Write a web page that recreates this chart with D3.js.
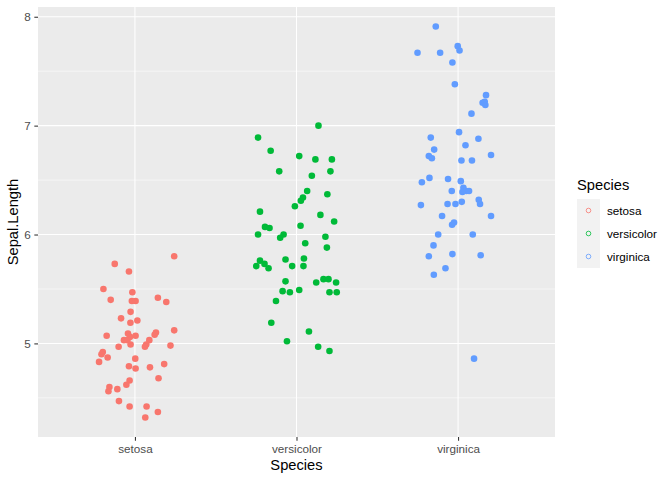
<!DOCTYPE html>
<html>
<head>
<meta charset="utf-8">
<script src="https://cdn.jsdelivr.net/npm/d3@7"></script>
<style>
body { margin: 0; background: #fff; }
text { font-family: "Liberation Sans", Arial, Helvetica, sans-serif; }
</style>
</head>
<body>
<svg id="chart"></svg>
<script>
// categories, colours, ticks
const species = ["setosa", "versicolor", "virginica"];
const colors = ["#F8766D", "#00BA38", "#619CFF"];
const yTicks = [5, 6, 7, 8];
const yMinor = [4.5, 5.5, 6.5, 7.5];

// Sepal.Length values (as jittered on the plot) and horizontal jitter in category units
const setosaLength = [5.80,5.73,5.66,5.50,5.47,5.40,5.42,5.38,5.39,5.39,5.29,5.23,5.19,5.21,5.12,5.10,5.08,5.07,5.09,5.07,5.06,5.03,5.03,5.03,4.99,4.99,4.97,4.97,4.98,4.92,4.90,4.87,4.83,4.86,4.79,4.77,4.78,4.81,4.68,4.66,4.62,4.60,4.56,4.58,4.47,4.42,4.42,4.37,4.32];
const setosaJitter = [0.243,-0.125,-0.037,-0.195,-0.016,-0.150,0.142,0.194,-0.019,0.004,-0.027,-0.086,-0.028,0.015,0.243,0.130,0.122,-0.175,-0.043,0.004,-0.031,-0.068,-0.047,0.089,-0.027,0.070,0.062,-0.101,0.220,-0.199,-0.207,-0.169,-0.222,0.002,-0.037,0.004,0.093,0.181,0.146,-0.033,-0.053,-0.158,-0.164,-0.109,-0.099,-0.033,0.072,0.142,0.064];

const versicolorLength = [7.00,6.89,6.77,6.72,6.69,6.69,6.58,6.58,6.54,6.40,6.37,6.34,6.31,6.26,6.21,6.18,6.12,6.07,6.06,6.08,6.00,6.00,5.97,5.98,5.92,5.88,5.76,5.71,5.73,5.69,5.77,5.78,5.71,5.71,5.57,5.56,5.59,5.59,5.56,5.48,5.47,5.49,5.47,5.47,5.39,5.19,5.11,5.02,4.97,4.93];
const versicolorJitter = [0.136,-0.238,-0.160,0.017,0.117,0.219,-0.107,0.210,0.095,0.066,0.191,0.040,0.027,-0.010,-0.226,0.148,0.233,-0.195,-0.167,0.025,-0.238,-0.080,-0.101,0.179,0.054,0.188,-0.226,-0.249,-0.198,-0.173,-0.068,0.046,-0.027,0.043,-0.068,0.122,0.167,0.198,0.245,-0.086,-0.041,0.017,0.204,0.249,-0.127,-0.156,0.077,-0.059,0.134,0.204];

const virginicaLength = [7.91,7.67,7.67,7.73,7.69,7.58,7.38,7.28,7.21,7.22,7.19,7.11,6.89,6.94,6.88,6.78,6.82,6.72,6.70,6.73,6.68,6.68,6.52,6.48,6.51,6.49,6.40,6.43,6.39,6.40,6.40,6.32,6.28,6.27,6.28,6.28,6.30,6.17,6.17,6.09,6.11,6.00,6.00,5.90,5.82,5.80,5.81,5.69,5.63,4.86];
const virginicaJitter = [-0.138,-0.251,-0.111,-0.002,0.009,-0.035,-0.020,0.173,0.152,0.165,0.169,0.083,-0.169,0.006,0.126,-0.148,0.046,-0.181,-0.162,0.204,0.021,0.086,-0.177,-0.224,-0.062,0.017,-0.039,0.033,0.027,0.052,0.068,0.128,0.136,-0.230,-0.065,-0.016,0.023,-0.099,0.204,-0.037,-0.025,-0.123,0.091,-0.152,-0.035,-0.181,0.140,-0.078,-0.150,0.099];

const lengths = [setosaLength, versicolorLength, virginicaLength];
const jitters = [setosaJitter, versicolorJitter, virginicaJitter];

const points = [];
lengths.forEach((arr, i) => {
    arr.forEach((v, k) => points.push({ sp: i, x: i + jitters[i][k], y: v }));
});

const width = 672, height = 480;
const panel = { left: 38, right: 555, top: 7, bottom: 437 };

const svg = d3.select("#chart")
    .attr("width", width)
    .attr("height", height);

// ggplot style: discrete x expanded by 0.6, continuous y by 5%
const x = d3.scaleLinear()
    .domain([-0.6, species.length - 1 + 0.6])
    .range([panel.left, panel.right]);

const [lo, hi] = d3.extent(points, d => d.y);
const pad = (hi - lo) * 0.05;
const y = d3.scaleLinear()
    .domain([lo - pad, hi + pad])
    .range([panel.bottom, panel.top]);

// panel background
svg.append("rect")
    .attr("x", panel.left)
    .attr("y", panel.top)
    .attr("width", panel.right - panel.left)
    .attr("height", panel.bottom - panel.top)
    .attr("fill", "#EBEBEB");

// grid lines
svg.append("g").selectAll("line")
    .data(yMinor)
    .join("line")
    .attr("x1", panel.left).attr("x2", panel.right)
    .attr("y1", d => y(d)).attr("y2", d => y(d))
    .attr("stroke", "#fff").attr("stroke-width", 0.53);

svg.append("g").selectAll("line")
    .data(yTicks)
    .join("line")
    .attr("x1", panel.left).attr("x2", panel.right)
    .attr("y1", d => y(d)).attr("y2", d => y(d))
    .attr("stroke", "#fff").attr("stroke-width", 1.07);

svg.append("g").selectAll("line")
    .data(species)
    .join("line")
    .attr("x1", (d, i) => x(i)).attr("x2", (d, i) => x(i))
    .attr("y1", panel.top).attr("y2", panel.bottom)
    .attr("stroke", "#fff").attr("stroke-width", 1.07);

// points
svg.append("g").selectAll("circle")
    .data(points)
    .join("circle")
    .attr("cx", d => x(d.x))
    .attr("cy", d => y(d.y))
    .attr("r", 3.3)
    .attr("fill", d => colors[d.sp]);

// axes
const yAxis = svg.append("g")
    .attr("transform", `translate(${panel.left},0)`)
    .call(d3.axisLeft(y).tickValues(yTicks).tickFormat(d3.format("d")).tickSize(3.67).tickPadding(3.5));

const xAxis = svg.append("g")
    .attr("transform", `translate(0,${panel.bottom})`)
    .call(d3.axisBottom(x).tickValues([0, 1, 2]).tickFormat(i => species[i]).tickSize(3.67).tickPadding(3.7));

[yAxis, xAxis].forEach(g => {
    g.select(".domain").remove();
    g.selectAll(".tick line").attr("stroke", "#333333").attr("stroke-width", 1.07);
    g.selectAll(".tick text")
        .attr("fill", "#4D4D4D")
        .style("font-size", "11.7px")
        .style("font-family", "'Liberation Sans', Arial, sans-serif");
});

// axis titles
svg.append("text")
    .attr("x", (panel.left + panel.right) / 2)
    .attr("y", 470)
    .attr("text-anchor", "middle")
    .style("font-size", "14.7px")
    .attr("fill", "#000")
    .text("Species");

svg.append("text")
    .attr("transform", `translate(18,${(panel.top + panel.bottom) / 2}) rotate(-90)`)
    .attr("text-anchor", "middle")
    .style("font-size", "14.7px")
    .attr("fill", "#000")
    .text("Sepal.Length");

// legend
const legend = svg.append("g").attr("transform", "translate(577,0)");

legend.append("text")
    .attr("x", 0)
    .attr("y", 190)
    .style("font-size", "14.7px")
    .text("Species");

const keySize = 23;
const keyTop = 199;

const key = legend.selectAll("g.key")
    .data(species)
    .join("g")
    .attr("class", "key")
    .attr("transform", (d, i) => `translate(0,${keyTop + i * keySize})`);

key.append("rect")
    .attr("width", keySize)
    .attr("height", keySize)
    .attr("fill", "#F2F2F2");

key.append("circle")
    .attr("cx", keySize / 2)
    .attr("cy", keySize / 2)
    .attr("r", 2.3)
    .attr("fill", "none")
    .attr("stroke", (d, i) => colors[i])
    .attr("stroke-width", 0.8);

key.append("text")
    .attr("x", 30)
    .attr("y", keySize / 2)
    .attr("dy", "0.35em")
    .style("font-size", "11.7px")
    .attr("fill", "#000")
    .text(d => d);
</script>
</body>
</html>
